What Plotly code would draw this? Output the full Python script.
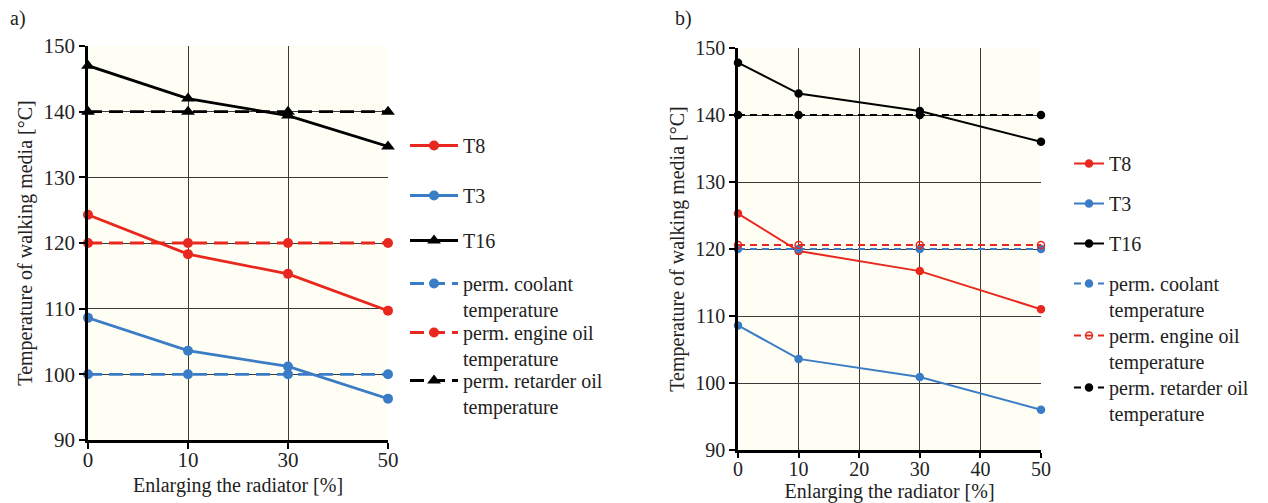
import plotly.graph_objects as go

# ---------------- data ----------------
x_a = ["0", "10", "30", "50"]
t8_a = [124.3, 118.3, 115.3, 109.7]
t3_a = [108.6, 103.6, 101.2, 96.3]
t16_a = [147.0, 142.0, 139.4, 134.7]
coolant_a = [100, 100, 100, 100]
engine_a = [120, 120, 120, 120]
retarder_a = [140, 140, 140, 140]

x_b = [0, 10, 30, 50]
t8_b = [125.3, 119.7, 116.7, 111.0]
t3_b = [108.6, 103.6, 100.9, 96.0]
t16_b = [147.8, 143.2, 140.6, 136.0]
coolant_b = [120, 120, 120, 120]
engine_b = [120.6, 120.6, 120.6, 120.6]
retarder_b = [140, 140, 140, 140]

names = ["T8", "T3", "T16",
         "perm. coolant<br>temperature",
         "perm. engine oil<br>temperature",
         "perm. retarder oil<br>temperature"]

y_ticks = [90, 100, 110, 120, 130, 140, 150]
x_ticks_b = [0, 10, 20, 30, 40, 50]

RED = "#E8281E"
BLUE = "#3B7CC6"
BLACK = "#000000"
FONT = "Liberation Serif"
TXT = "#222222"
BG = "#FFFEF4"

# page body has an 8px margin; figure sized to fit the window
W, H, OFF = 1260, 495, 8


def fx(p):
    return (p - OFF) / W


def fy(p):
    return 1 - (p - OFF) / H


fig = go.Figure()

# legend anchor positions (screen px): first-line centre of each entry
leg_a_y = [145, 195, 240, 283, 332, 380]
leg_b_y = [163, 203, 243, 283, 335, 387]

# ---------------- panel a ----------------
series_a = [
    (t8_a, RED, "solid", "circle", 10),
    (t3_a, BLUE, "solid", "circle", 10),
    (t16_a, BLACK, "solid", "triangle-up", 12),
    (coolant_a, BLUE, "14px,7px", "circle", 10),
    (engine_a, RED, "14px,7px", "circle", 10),
    (retarder_a, BLACK, "14px,7px", "triangle-up", 12),
]
for i, (vals, col, dash, sym, sz) in enumerate(series_a):
    fig.add_trace(go.Scatter(
        x=x_a, y=vals, name=names[i], mode="lines+markers",
        line=dict(color=col, width=2.8, dash=dash),
        marker=dict(color=col, symbol=sym, size=sz),
        xaxis="x", yaxis="y", legend="legend%d" % (i + 1) if i else "legend",
        cliponaxis=False))

# ---------------- panel b ----------------
series_b = [
    (t8_b, RED, "solid", "circle", 7, RED),
    (t3_b, BLUE, "solid", "circle", 7, BLUE),
    (t16_b, BLACK, "solid", "circle", 7, BLACK),
    (coolant_b, BLUE, "7px,5px", "circle", 7, BLUE),
    (engine_b, RED, "7px,5px", "circle-open", 7, RED),
    (retarder_b, BLACK, "7px,5px", "circle", 7, BLACK),
]
for i, (vals, col, dash, sym, sz, mc) in enumerate(series_b):
    fig.add_trace(go.Scatter(
        x=x_b, y=vals, name=names[i], mode="lines+markers",
        line=dict(color=col, width=2, dash=dash),
        marker=dict(color=mc, symbol=sym, size=sz, line=dict(color=col, width=1.5)),
        xaxis="x2", yaxis="y2", legend="legend%d" % (i + 7),
        cliponaxis=False))


def axis(**kw):
    d = dict(
        showline=True, linecolor="black", linewidth=2.5,
        ticks="outside", ticklen=6, tickwidth=2, tickcolor="black",
        showgrid=True, gridcolor="#3a3a3a", gridwidth=1,
        zeroline=False, automargin=False,
        tickfont=dict(family=FONT, size=21, color=TXT),
    )
    d.update(kw)
    return d


title_font = dict(family=FONT, size=20, color=TXT)
leg_font = dict(family=FONT, size=20, color=TXT)

legends = {}
for i, yc in enumerate(leg_a_y):
    key = "legend" if i == 0 else "legend%d" % (i + 1)
    legends[key] = dict(x=fx(405), y=fy(yc - 19), xanchor="left", yanchor="top",
                        bgcolor="rgba(0,0,0,0)", font=leg_font, valign="top",
                        itemwidth=48)
for i, yc in enumerate(leg_b_y):
    key = "legend%d" % (i + 7)
    legends[key] = dict(x=fx(1069), y=fy(yc - 19), xanchor="left", yanchor="top",
                        bgcolor="rgba(0,0,0,0)", font=leg_font, valign="top")

fig.update_layout(
    template="none",
    width=W, height=H,
    margin=dict(l=0, r=0, t=0, b=0),
    paper_bgcolor="white",
    plot_bgcolor=BG,
    showlegend=True,
    font=dict(family=FONT, color=TXT),
    xaxis=axis(type="category", domain=[fx(88), fx(388)], range=[0, 3], anchor="y",
               ticklabelstandoff=-7,
               title=dict(text="Enlarging the radiator [%]", font=title_font, standoff=8)),
    yaxis=axis(domain=[fy(440), fy(46)], range=[90, 150], tickvals=y_ticks, anchor="x",
               title=dict(text="Temperature of walking media [°C]", font=title_font, standoff=6)),
    xaxis2=axis(domain=[fx(738), fx(1041)], range=[0, 50], tickvals=x_ticks_b, anchor="y2",
                ticklen=5, ticklabelstandoff=-6,
                tickfont=dict(family=FONT, size=20, color=TXT),
                title=dict(text="Enlarging the radiator [%]", font=title_font, standoff=7)),
    yaxis2=axis(domain=[fy(450), fy(48)], range=[90, 150], tickvals=y_ticks, anchor="x2",
                tickfont=dict(family=FONT, size=20, color=TXT),
                title=dict(text="Temperature of walking media [°C]", font=title_font, standoff=6)),
    annotations=[
        dict(text="a)", x=fx(8), y=fy(18), xref="paper", yref="paper",
             xanchor="left", yanchor="middle", showarrow=False,
             font=dict(family=FONT, size=20, color=TXT)),
        dict(text="b)", x=fx(673), y=fy(18), xref="paper", yref="paper",
             xanchor="left", yanchor="middle", showarrow=False,
             font=dict(family=FONT, size=20, color=TXT)),
    ],
    **legends,
)

fig.write_html("out.html")
